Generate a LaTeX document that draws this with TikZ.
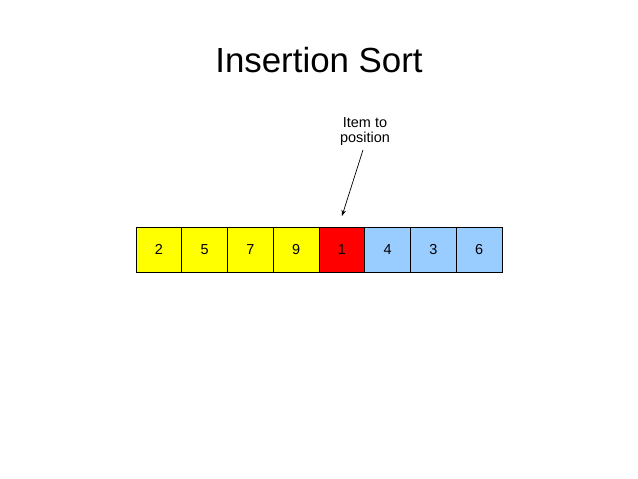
\documentclass[tikz,border=0pt]{standalone}
\usepackage{fontspec}
\setmainfont{Liberation Sans}
\usetikzlibrary{arrows.meta}
\definecolor{cellyellow}{HTML}{FFFF00}
\definecolor{cellred}{HTML}{FF0000}
\definecolor{cellblue}{HTML}{99CCFF}
\tikzset{
  cell/.style={draw=black, line width=0.8bp, minimum width=45.75bp, minimum height=45.75bp, inner sep=0pt, outer sep=0pt, font=\fontsize{14.5}{16}\selectfont, anchor=north west},
  pointer/.style={draw=black, line width=0.7bp, -{Stealth[length=6bp,width=4.5bp]}}
}
\begin{document}
\begin{tikzpicture}[x=1bp,y=-1bp]
\useasboundingbox (0,0) rectangle (638,479);
\fill[white] (0,0) rectangle (638,479);
\node[anchor=base, inner sep=0pt, font=\fontsize{35}{40}\selectfont] (title) at (319,73) {Insertion Sort};
\node[cell, fill=cellyellow] (c1) at (136,227) {2};
\node[cell, fill=cellyellow] (c2) at (181.75,227) {5};
\node[cell, fill=cellyellow] (c3) at (227.5,227) {7};
\node[cell, fill=cellyellow] (c4) at (273.25,227) {9};
\node[cell, fill=cellred] (c5) at (319,227) {1};
\node[cell, fill=cellblue] (c6) at (364.75,227) {4};
\node[cell, fill=cellblue] (c7) at (410.5,227) {3};
\node[cell, fill=cellblue] (c8) at (456.25,227) {6};
\node[align=center, inner sep=0pt, font=\fontsize{14.5}{15}\selectfont] (lab) at (365,131.3) {Item to\\position};
\coordinate (tip) at (342,216);
\draw[pointer] (lab.south) ++(-2,4.5) -- (tip);
\end{tikzpicture}
\end{document}
